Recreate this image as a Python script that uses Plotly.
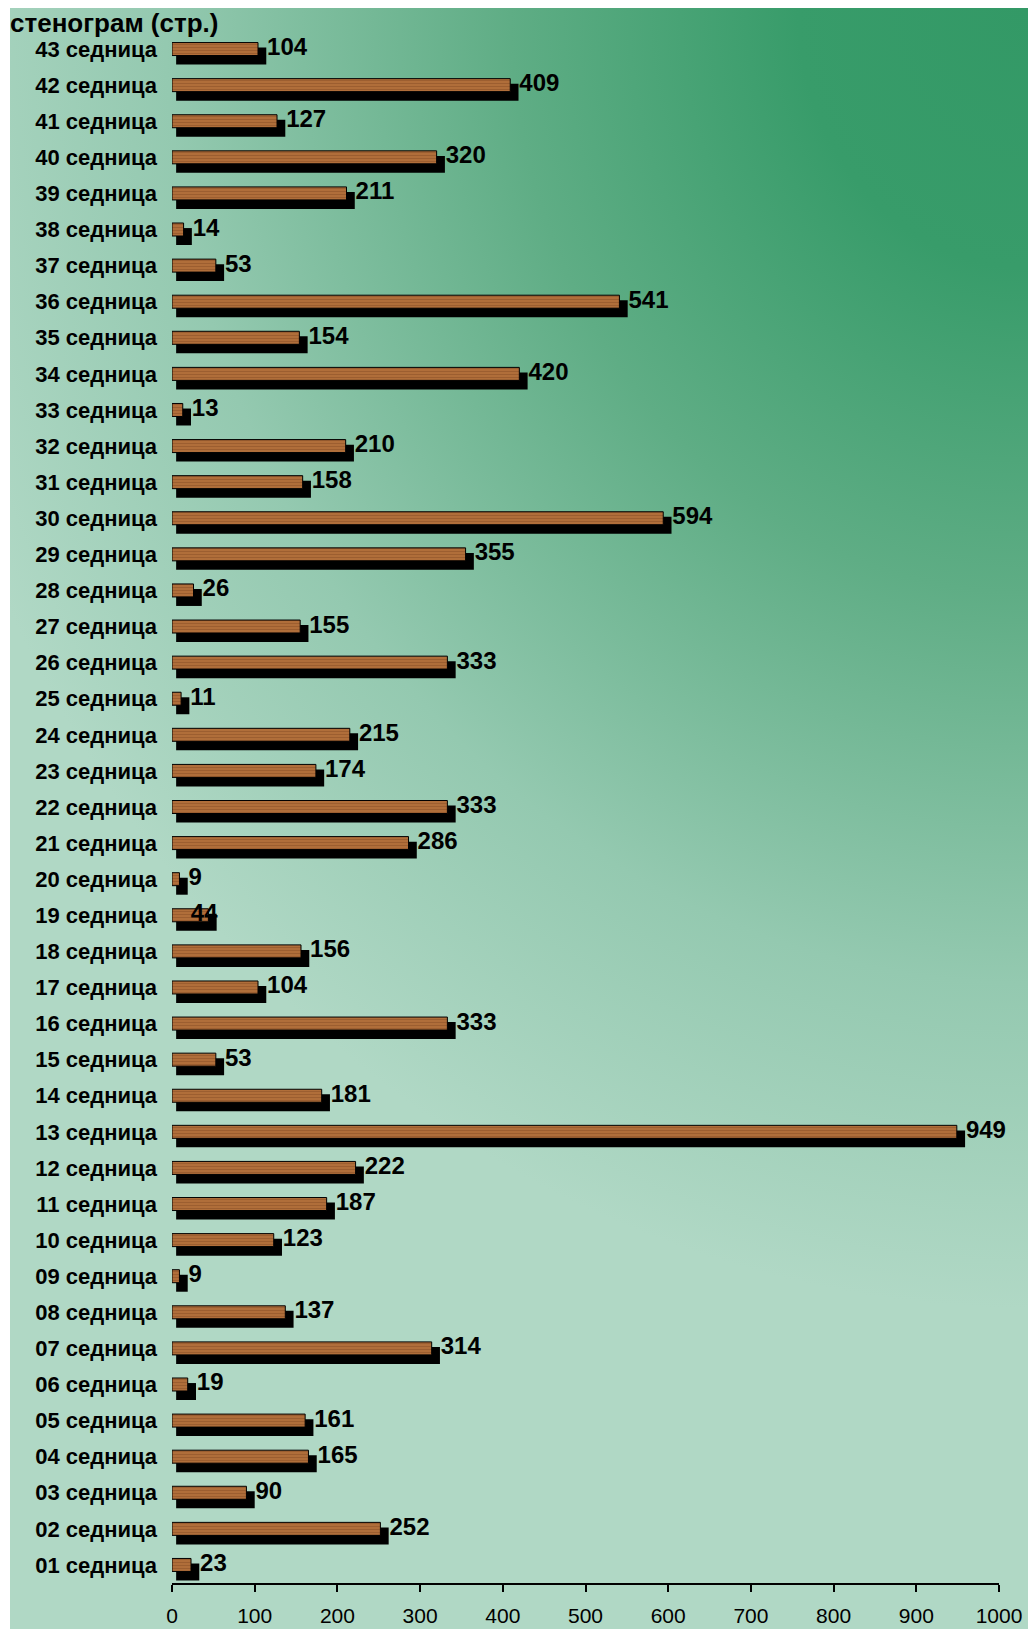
import base64
import plotly.graph_objects as go

# Sessions, bottom to top, and transcript length in pages for each
session_labels = [f"{n:02d} седница" for n in range(1, 44)]
pages = [23, 252, 90, 165, 161, 19, 314, 137, 9, 123,
         187, 222, 949, 181, 53, 333, 104, 156, 44, 9,
         286, 333, 174, 215, 11, 333, 155, 26, 355, 594,
         158, 210, 13, 420, 154, 541, 53, 14, 211, 320,
         127, 409, 104]
x_ticks = [0, 100, 200, 300, 400, 500, 600, 700, 800, 900, 1000]
title_text = "стенограм (стр.)"

FONT = "Liberation Sans, Arial, sans-serif"
W, H = 1028, 1629
ML, MR, MT, MB = 172, 29, 31, 46
PW, PH = W - ML - MR, H - MT - MB

# Corner gradient backdrop (dark green top-right fading to pale mint)
bg_w, bg_h = W - 10, H - 8
svg = f'''<svg xmlns="http://www.w3.org/2000/svg" width="{bg_w}" height="{bg_h}" viewBox="0 0 {bg_w} {bg_h}" preserveAspectRatio="none">
<defs><radialGradient id="g" gradientUnits="userSpaceOnUse" cx="0" cy="0" r="1"
 gradientTransform="translate({bg_w} 0) scale(1150 1300)">
<stop offset="0" stop-color="rgb(51,153,102)"/>
<stop offset="0.2" stop-color="rgb(56,156,106)"/>
<stop offset="0.45" stop-color="rgb(95,173,133)"/>
<stop offset="0.75" stop-color="rgb(148,201,176)"/>
<stop offset="1" stop-color="rgb(176,216,197)"/>
</radialGradient></defs>
<rect width="{bg_w}" height="{bg_h}" fill="url(#g)"/></svg>'''
svg_uri = "data:image/svg+xml;base64," + base64.b64encode(svg.encode()).decode()

fig = go.Figure()

# Drop shadow behind each bar, nudged right and down
fig.add_trace(go.Bar(
    y=session_labels, x=[v + 5 for v in pages], base=5, orientation="h",
    width=0.47, offset=-0.43,
    marker=dict(color="black", line=dict(width=0)),
    hoverinfo="skip",
))

# Wood-toned bars
fig.add_trace(go.Bar(
    y=session_labels, x=pages, orientation="h",
    width=0.36, offset=-0.18,
    marker=dict(
        color="rgb(176,110,58)",
        line=dict(color="black", width=1),
        pattern=dict(shape="-", fgcolor="rgb(135,78,38)", size=3,
                     solidity=0.35, fillmode="overlay"),
    ),
))

# Value labels just past the shadow; the session 19 label sits back over its bar
text_pos = ["middle left" if s == "19 седница" else "middle right"
            for s in session_labels]
fig.add_trace(go.Scatter(
    y=session_labels, x=[v + 11 for v in pages], mode="text",
    text=[str(v) for v in pages], textposition=text_pos,
    textfont=dict(family=FONT, size=24, color="black", weight="bold"),
    cliponaxis=False, hoverinfo="skip",
))

fig.update_layout(
    width=W, height=H,
    margin=dict(l=ML, r=MR, t=MT, b=MB, pad=0, autoexpand=False),
    paper_bgcolor="white", plot_bgcolor="rgba(0,0,0,0)",
    barmode="overlay", showlegend=False,
    font=dict(family=FONT, color="black"),
    title=dict(text=title_text, x=10 / W, xanchor="left", xref="container",
               y=1 - 23 / H, yanchor="middle", yref="container",
               font=dict(family=FONT, size=26, color="black", weight="bold")),
    images=[dict(source=svg_uri, xref="paper", yref="paper",
                 x=(10 - ML) / PW, y=(H - MB - 8) / PH,
                 sizex=bg_w / PW, sizey=bg_h / PH,
                 xanchor="left", yanchor="top", sizing="stretch",
                 layer="below")],
    xaxis=dict(range=[0, 1000], tickvals=x_ticks, ticks="outside",
               ticklen=7, tickwidth=2, tickcolor="black",
               showline=True, linewidth=2, linecolor="black",
               showgrid=False, zeroline=False, ticklabelstandoff=6,
               automargin=False,
               tickfont=dict(family=FONT, size=21, color="black")),
    yaxis=dict(type="category", categoryorder="array",
               categoryarray=session_labels, range=[-0.5, 42.5],
               ticks="", showline=False, showgrid=False, zeroline=False,
               ticklabelstandoff=14, automargin=False,
               tickfont=dict(family=FONT, size=22, color="black",
                             weight="bold")),
)

fig.write_html("out.html")
